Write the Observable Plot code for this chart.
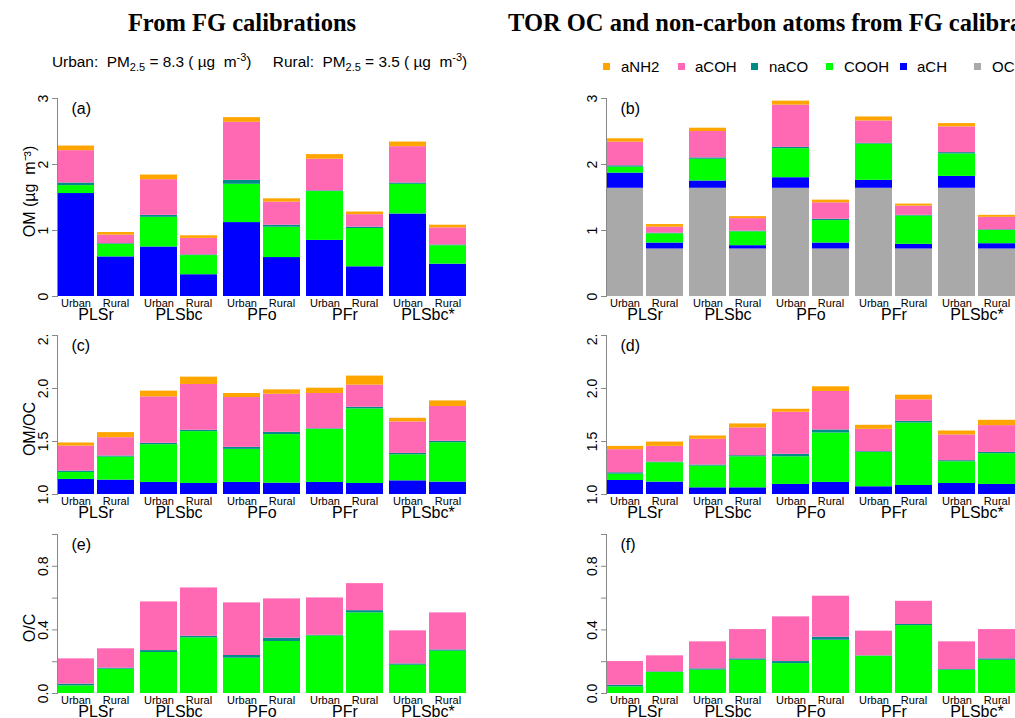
<!DOCTYPE html>
<html><head><meta charset="utf-8">
<script src="https://cdn.jsdelivr.net/npm/d3@7"></script>
<script src="https://cdn.jsdelivr.net/npm/@observablehq/plot@0.6"></script>
<style>
body{margin:0;background:#fff;}
#fig{position:relative;width:1015px;height:718px;overflow:hidden;background:#fff;font-family:Arial,"Liberation Sans",sans-serif;color:#000;}
.t{position:absolute;white-space:nowrap;}
.title{font-family:"Times New Roman","Liberation Serif",serif;font-weight:bold;font-size:24.5px;line-height:24px;}
.sub{font-size:15.4px;line-height:15px;}
.sub sub,.sub sup{font-size:11px;line-height:0;}
.leg{font-size:15px;line-height:15px;}
.sq{position:absolute;width:7px;height:7px;}
.panel{position:absolute;}
</style></head>
<body><div id="fig"></div>
<script>
// ---------- data ----------
const groups = ["PLSr", "PLSbc", "PFo", "PFr", "PLSbc*"];
const sites = ["Urban", "Rural"];
const comps = ["OC", "aCH", "COOH", "naCO", "aCOH", "aNH2"];
const compColors = ["#A9A9A9", "#0000FF", "#00FF00", "#008B8B", "#FF69B4", "#FFA500"];
const legendOrder = ["aNH2", "aCOH", "naCO", "COOH", "aCH", "OC"];
const titleLeft = "From FG calibrations";
const titleRight = "TOR OC and non-carbon atoms from FG calibrations";
const pmUrban = 8.3, pmRural = 3.5;

// bar order: PLSr U,R | PLSbc U,R | PFo U,R | PFr U,R | PLSbc* U,R  (cumulative tops)
// (a) OM from FG calibrations
const aTop_aCH  = [1.56, 0.60, 0.75, 0.33, 1.12, 0.59, 0.85, 0.45, 1.25, 0.49];
const aTop_COOH = [1.68, 0.79, 1.20, 0.62, 1.70, 1.05, 1.59, 1.03, 1.70, 0.77];
const aTop_naCO = [1.72, 0.80, 1.23, 0.63, 1.76, 1.08, 1.60, 1.05, 1.72, 0.78];
const aTop_aCOH = [2.21, 0.93, 1.77, 0.88, 2.64, 1.43, 2.08, 1.24, 2.27, 1.04];
const aTop_aNH2 = [2.28, 0.97, 1.84, 0.92, 2.71, 1.48, 2.15, 1.28, 2.34, 1.08];
// (b) TOR OC + non-carbon atoms
const bTop_OC   = [1.64, 0.72, 1.64, 0.72, 1.64, 0.72, 1.64, 0.72, 1.64, 0.72];
const bTop_aCH  = [1.87, 0.81, 1.75, 0.77, 1.80, 0.81, 1.76, 0.79, 1.82, 0.80];
const bTop_COOH = [1.96, 0.95, 2.08, 0.98, 2.24, 1.15, 2.31, 1.22, 2.16, 1.00];
const bTop_naCO = [1.98, 0.96, 2.10, 0.99, 2.26, 1.17, 2.32, 1.23, 2.18, 1.01];
const bTop_aCOH = [2.34, 1.05, 2.50, 1.18, 2.90, 1.42, 2.66, 1.37, 2.57, 1.20];
const bTop_aNH2 = [2.39, 1.09, 2.55, 1.21, 2.96, 1.46, 2.72, 1.40, 2.62, 1.23];
// (c) OM/OC from FG calibrations
const cTop_aCH  = [1.142, 1.136, 1.114, 1.104, 1.114, 1.107, 1.114, 1.104, 1.129, 1.117];
const cTop_COOH = [1.208, 1.353, 1.470, 1.593, 1.426, 1.565, 1.615, 1.808, 1.375, 1.489];
const cTop_naCO = [1.221, 1.363, 1.483, 1.606, 1.445, 1.587, 1.620, 1.823, 1.388, 1.502];
const cTop_aCOH = [1.457, 1.536, 1.921, 2.038, 1.915, 1.946, 1.953, 2.032, 1.685, 1.830];
const cTop_aNH2 = [1.486, 1.584, 1.975, 2.107, 1.953, 1.987, 2.003, 2.117, 1.719, 1.883];
// (d) OM/OC with TOR OC
const dTop_aCH  = [1.132, 1.117, 1.063, 1.063, 1.095, 1.114, 1.073, 1.085, 1.104, 1.095];
const dTop_COOH = [1.192, 1.300, 1.268, 1.356, 1.356, 1.580, 1.397, 1.675, 1.309, 1.385];
const dTop_naCO = [1.205, 1.306, 1.278, 1.366, 1.379, 1.609, 1.404, 1.691, 1.319, 1.397];
const dTop_aCOH = [1.423, 1.454, 1.521, 1.628, 1.776, 1.972, 1.615, 1.893, 1.562, 1.650];
const dTop_aNH2 = [1.454, 1.495, 1.552, 1.666, 1.804, 2.016, 1.653, 1.937, 1.599, 1.700];
// (e) O/C from FG calibrations
const eTop_COOH = [0.048, 0.153, 0.258, 0.350, 0.222, 0.327, 0.362, 0.507, 0.178, 0.266];
const eTop_naCO = [0.059, 0.159, 0.270, 0.360, 0.239, 0.348, 0.366, 0.521, 0.186, 0.274];
const eTop_aCOH = [0.218, 0.281, 0.576, 0.664, 0.570, 0.595, 0.601, 0.691, 0.394, 0.507];
// (f) O/C with TOR OC
const fTop_COOH = [0.042, 0.132, 0.147, 0.209, 0.188, 0.335, 0.235, 0.427, 0.147, 0.209];
const fTop_naCO = [0.052, 0.136, 0.155, 0.218, 0.201, 0.354, 0.237, 0.434, 0.151, 0.218];
const fTop_aCOH = [0.201, 0.237, 0.325, 0.402, 0.482, 0.612, 0.392, 0.580, 0.325, 0.402];

const ticksOM = [0, 1, 2, 3];
const ticksOMOC = [1.0, 1.5, 2.0, 2.5];
const ticksOC = [0, 0.2, 0.4, 0.6, 0.8, 1.0];
const labelledOC = [0, 0.4, 0.8];

// ---------- table building ----------
function buildRows(base, layers) {
  const rows = [];
  for (let i = 0; i < groups.length * sites.length; i++) {
    let prev = base;
    for (const [comp, tops] of layers) {
      rows.push({group: groups[Math.floor(i / 2)], site: sites[i % 2], comp, y1: prev, y2: tops[i]});
      prev = tops[i];
    }
  }
  return rows;
}
const rowsA = buildRows(0, [["aCH", aTop_aCH], ["COOH", aTop_COOH], ["naCO", aTop_naCO], ["aCOH", aTop_aCOH], ["aNH2", aTop_aNH2]]);
const rowsB = buildRows(0, [["OC", bTop_OC], ["aCH", bTop_aCH], ["COOH", bTop_COOH], ["naCO", bTop_naCO], ["aCOH", bTop_aCOH], ["aNH2", bTop_aNH2]]);
const rowsC = buildRows(1, [["aCH", cTop_aCH], ["COOH", cTop_COOH], ["naCO", cTop_naCO], ["aCOH", cTop_aCOH], ["aNH2", cTop_aNH2]]);
const rowsD = buildRows(1, [["aCH", dTop_aCH], ["COOH", dTop_COOH], ["naCO", dTop_naCO], ["aCOH", dTop_aCOH], ["aNH2", dTop_aNH2]]);
const rowsE = buildRows(0, [["COOH", eTop_COOH], ["naCO", eTop_naCO], ["aCOH", eTop_aCOH]]);
const rowsF = buildRows(0, [["COOH", fTop_COOH], ["naCO", fTop_naCO], ["aCOH", fTop_aCOH]]);

// ---------- drawing ----------
const fig = document.getElementById("fig");
function addText(html, cls, left, top, center) {
  const d = document.createElement("div");
  d.className = "t " + cls;
  d.innerHTML = html;
  d.style.left = left + "px";
  d.style.top = top + "px";
  if (center) d.style.transform = "translateX(-50%)";
  fig.appendChild(d);
  return d;
}
addText(titleLeft, "title", 242, 11, true);
addText(titleRight, "title", 508, 11, false);
addText(`Urban:&nbsp; PM<sub>2.5</sub> = ${pmUrban} ( µg &nbsp;m<sup>-3</sup>)&nbsp;&nbsp;&nbsp;&nbsp; Rural:&nbsp; PM<sub>2.5</sub> = ${pmRural} ( µg &nbsp;m<sup>-3</sup>)`, "sub", 52, 54, false);

// legend
const legSquareX = [603, 678, 751, 826, 900, 974];
const legTextX = [621, 695, 769, 844, 917, 992];
legendOrder.forEach((c, i) => {
  const s = document.createElement("div");
  s.className = "sq";
  s.style.left = legSquareX[i] + "px";
  s.style.top = "63px";
  s.style.background = compColors[comps.indexOf(c)];
  fig.appendChild(s);
  addText(c, "leg", legTextX[i], 59, false);
});

function panel({rows, domain, ticks, fmt, label, labelDy, letter, left, top, height, mt, mb}) {
  const width = 480;
  const marks = [
    Plot.barY(rows, {fx: "group", x: "site", y1: "y1", y2: "y2", fill: "comp"}),
    Plot.frame({anchor: "left", facet: "super", stroke: "#888"}),
    Plot.axisY({ticks, tickFormat: fmt, tickRotate: -90, tickSize: 5, tickPadding: 5, stroke: "#888",
      fontSize: 14, label: null}),
    Plot.axisX({tickSize: 0, tickPadding: 3, fontSize: 11, label: null}),
    Plot.axisFx({anchor: "bottom", tickSize: 0, tickPadding: 12, fontSize: 16, label: null}),
    Plot.text([letter], {frameAnchor: "top-left", dx: 14, dy: 4, lineAnchor: "top", textAnchor: "start", fontSize: 16, facet: "super"})
  ];
  if (label) marks.push(Plot.text([label], {frameAnchor: "left", dx: -28, dy: labelDy, rotate: -90, textAnchor: "middle", lineAnchor: "middle", fontSize: 16, facet: "super"}));
  const chart = Plot.plot({
    width, height,
    marginLeft: 53, marginRight: 11, marginTop: mt, marginBottom: mb,
    style: {overflow: "hidden", fontFamily: "Arial, 'Liberation Sans', sans-serif", background: "transparent", color: "#000"},
    fx: {domain: groups, paddingInner: 0.076, paddingOuter: 0.035, label: null},
    x: {domain: sites, paddingInner: 0.075, paddingOuter: 0, label: null},
    y: {domain, label: null},
    color: {domain: comps, range: compColors},
    marks
  });
  chart.classList.add("panel");
  chart.style.left = left + "px";
  chart.style.top = top + "px";
  fig.appendChild(chart);
}

const fmtOM = d => String(d);
const fmtOMOC = d => d.toFixed(1);
const fmtOC = d => labelledOC.some(v => Math.abs(v - d) < 1e-9) ? d.toFixed(1) : "";

panel({rows: rowsA, domain: [0, 3], ticks: ticksOM, fmt: fmtOM, label: "OM (µg  m⁻³)", labelDy: -6, letter: "(a)", left: 0, top: 80, height: 250, mt: 18, mb: 34});
panel({rows: rowsB, domain: [0, 3], ticks: ticksOM, fmt: fmtOM, label: null, letter: "(b)", left: 549, top: 80, height: 250, mt: 18, mb: 34});
panel({rows: rowsC, domain: [1, 2.5], ticks: ticksOMOC, fmt: fmtOMOC, label: "OM/OC", labelDy: 14, letter: "(c)", left: 0, top: 335, height: 195, mt: 0, mb: 36});
panel({rows: rowsD, domain: [1, 2.5], ticks: ticksOMOC, fmt: fmtOMOC, label: null, letter: "(d)", left: 549, top: 335, height: 195, mt: 0, mb: 36});
panel({rows: rowsE, domain: [0, 1], ticks: ticksOC, fmt: fmtOC, label: "O/C", labelDy: 14, letter: "(e)", left: 0, top: 531, height: 187, mt: 3, mb: 25});
panel({rows: rowsF, domain: [0, 1], ticks: ticksOC, fmt: fmtOC, label: null, letter: "(f)", left: 549, top: 531, height: 187, mt: 3, mb: 25});
</script>
</body></html>
